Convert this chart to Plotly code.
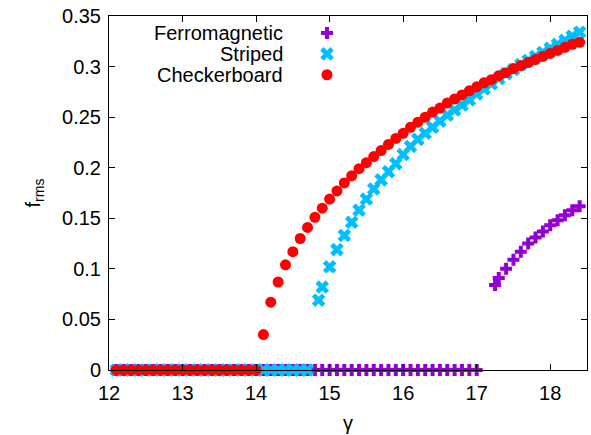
import numpy as np
import plotly.graph_objects as go

# ---------------- data ----------------
# Ferromagnetic phase: zero plateau, then nonzero branch above gamma ~ 17.2
ferro_zero_gamma = np.round(np.arange(12.1, 17.0001, 0.1), 2)
ferro_gamma = [17.25, 17.3, 17.4, 17.5, 17.6, 17.7, 17.8, 17.9, 18.0, 18.1, 18.2, 18.3, 18.4]
ferro_f = [0.084, 0.091, 0.100, 0.109, 0.117, 0.125, 0.131, 0.137, 0.143, 0.148, 0.153, 0.158, 0.162]

# Striped phase
striped_zero_gamma = np.round(np.arange(12.1, 14.7001, 0.1), 2)
striped_gamma = [14.85, 14.9, 15.0, 15.1, 15.2, 15.3, 15.4, 15.5, 15.6, 15.7, 15.8, 15.9,
                 16.0, 16.1, 16.2, 16.3, 16.4, 16.5, 16.6, 16.7, 16.8, 16.9, 17.0, 17.1,
                 17.2, 17.3, 17.4, 17.5, 17.6, 17.7, 17.8, 17.9, 18.0, 18.1, 18.2, 18.3, 18.4]
striped_f = [0.069, 0.082, 0.102, 0.119, 0.133, 0.146, 0.158, 0.169, 0.179, 0.188, 0.196, 0.204,
             0.213, 0.221, 0.228, 0.234, 0.240, 0.246, 0.252, 0.257, 0.262, 0.267, 0.273, 0.278,
             0.283, 0.288, 0.293, 0.297, 0.302, 0.306, 0.310, 0.314, 0.318, 0.322, 0.326, 0.330, 0.334]

# Checkerboard phase
checker_zero_gamma = np.round(np.arange(12.1, 14.0001, 0.1), 2)
checker_gamma = [14.1, 14.2, 14.3, 14.4, 14.5, 14.6, 14.7, 14.8, 14.9, 15.0, 15.1, 15.2,
                 15.3, 15.4, 15.5, 15.6, 15.7, 15.8, 15.9, 16.0, 16.1, 16.2, 16.3, 16.4,
                 16.5, 16.6, 16.7, 16.8, 16.9, 17.0, 17.1, 17.2, 17.3, 17.4, 17.5, 17.6,
                 17.7, 17.8, 17.9, 18.0, 18.1, 18.2, 18.3, 18.4]
checker_f = [0.035, 0.067, 0.087, 0.104, 0.117, 0.130, 0.141, 0.151, 0.160, 0.169, 0.177, 0.185,
             0.192, 0.199, 0.205, 0.211, 0.217, 0.223, 0.229, 0.234, 0.240, 0.245, 0.250, 0.255,
             0.259, 0.264, 0.268, 0.272, 0.276, 0.280, 0.284, 0.287, 0.291, 0.294, 0.298, 0.301,
             0.304, 0.307, 0.310, 0.313, 0.316, 0.319, 0.322, 0.324]

x_ticks = [12, 13, 14, 15, 16, 17, 18]
y_ticks = [0, 0.05, 0.1, 0.15, 0.2, 0.25, 0.3, 0.35]

series = [
    ("Ferromagnetic", ferro_zero_gamma, ferro_gamma, ferro_f,
     dict(symbol="cross", size=10, color="#9400D3")),
    ("Striped", striped_zero_gamma, striped_gamma, striped_f,
     dict(symbol="x", size=12, color="#00BFFF")),
    ("Checkerboard", checker_zero_gamma, checker_gamma, checker_f,
     dict(symbol="circle", size=11, color="#FF0000")),
]

FONT = "Liberation Sans, Arial, Helvetica, sans-serif"

fig = go.Figure()
for name, zg, g, f, mk in series:
    xs = list(zg) + list(g)
    ys = [0.0] * len(zg) + list(f)
    fig.add_trace(go.Scatter(x=xs, y=ys, mode="markers", name=name,
                             marker=dict(line=dict(width=0), **mk),
                             cliponaxis=False, showlegend=False))

# key: label text right-aligned, sample marker to its right
key_rows = [0.952, 0.893, 0.834]
for (name, _, _, _, mk), yk in zip(series, key_rows):
    fig.add_annotation(x=0.368, y=yk, xref="paper", yref="paper", text=name,
                       showarrow=False, xanchor="right", yanchor="middle",
                       font=dict(family=FONT, size=20, color="black"))
    fig.add_trace(go.Scatter(x=[0.456], y=[yk], xaxis="x2", yaxis="y2", mode="markers",
                             marker=dict(line=dict(width=0), **mk),
                             showlegend=False, hoverinfo="skip"))

axis_common = dict(showline=True, linecolor="black", linewidth=1, mirror="ticks",
                   ticks="inside", ticklen=6, tickcolor="black", showgrid=False,
                   zeroline=False, tickfont=dict(family=FONT, size=20, color="black"))

fig.update_layout(
    width=591, height=435,
    margin=dict(l=109, r=4, t=16, b=65),
    paper_bgcolor="white", plot_bgcolor="white",
    xaxis=dict(range=[12, 18.5], tickvals=x_ticks, ticktext=[str(v) for v in x_ticks],
               ticklabelstandoff=5,
               title=dict(text="γ", font=dict(family=FONT, size=20, color="black"), standoff=12),
               **axis_common),
    yaxis=dict(range=[0, 0.35], tickvals=y_ticks, ticktext=[f"{v:g}" for v in y_ticks],
               ticklabelstandoff=3,
               title=dict(text="f<sub>rms</sub>", font=dict(family=FONT, size=20, color="black"),
                          standoff=16),
               **axis_common),
    xaxis2=dict(range=[0, 1], overlaying="x", visible=False, showticklabels=False),
    yaxis2=dict(range=[0, 1], overlaying="y", visible=False, showticklabels=False),
    showlegend=False,
)

fig.write_html("out.html")
